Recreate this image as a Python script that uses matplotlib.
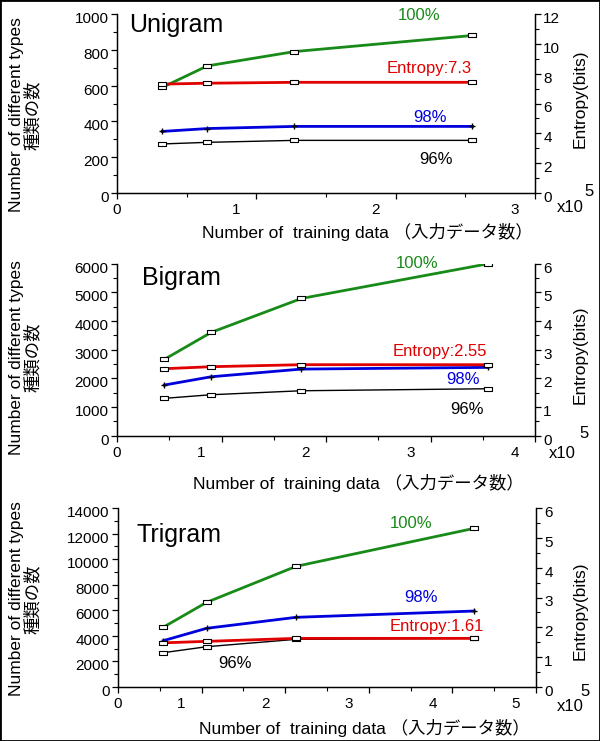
import matplotlib
matplotlib.use("Agg")
from matplotlib import pyplot as plt
from matplotlib.ticker import MultipleLocator
from matplotlib.patches import Rectangle
from matplotlib.transforms import ScaledTranslation

plt.rcParams['font.family'] = ['Liberation Sans', 'Noto Sans CJK JP', 'DejaVu Sans']

# training data size (x10^5)
uni_x = [0.325, 0.648, 1.273, 2.551]
uni_100 = [590, 710, 790, 880]
uni_98 = [344, 360, 372, 372]
uni_96 = [274, 283, 294, 294]
uni_ent = [7.3, 7.36, 7.42, 7.42]

bi_x = [0.453, 0.901, 1.765, 3.55]
bi_100 = [2655, 3596, 4780, 5990]
bi_98 = [1760, 2049, 2317, 2376]
bi_96 = [1296, 1422, 1561, 1631]
bi_ent = [2.33, 2.40, 2.47, 2.47]

tri_x = [0.54, 1.06, 2.13, 4.26]
tri_100 = [4668, 6622, 9437, 12408]
tri_98 = [3620, 4590, 5450, 5942]
tri_96 = [2682, 3151, 3729, 3808]
tri_ent = [1.48, 1.53, 1.63, 1.63]

GREEN = "#188a18"
RED = "#e00000"
BLUE = "#0000dd"

box = [(-1, -0.55), (1, -0.55), (1, 0.55), (-1, 0.55), (-1, -0.55)]
mk = dict(marker=box, markersize=6, mfc="white", mec="black", mew=0.8)

fig = plt.figure(figsize=(6, 7.41), dpi=100)
W, H = 600.0, 741.0


def px(x0, x1, y0, y1):
    return [x0 / W, 1 - y1 / H, (x1 - x0) / W, (y1 - y0) / H]


def panel(rect, title, tpos, x, y100, y98, y96, ent, xmax, ymax, ymaj, ymin,
          emax, emaj, emin, ent_txt, lpos, xlab_pos):
    ax = fig.add_axes(rect)
    ax2 = ax.twinx()

    ax.plot(x, y96, color="black", lw=1.0, **mk, zorder=3)
    ax.plot(x, y98, color=BLUE, lw=2.0, marker="+", markersize=4, mec="black", zorder=4)
    ax.plot(x, y100, color=GREEN, lw=2.0, **mk, zorder=5)
    ax2.plot(x, ent, color=RED, lw=2.0, **mk)

    ax.set_xlim(0, xmax)
    ax.set_ylim(0, ymax)
    ax2.set_ylim(0, emax)
    ax.yaxis.set_major_locator(MultipleLocator(ymaj))
    ax.yaxis.set_minor_locator(MultipleLocator(ymin))
    ax2.yaxis.set_major_locator(MultipleLocator(emaj))
    ax2.yaxis.set_minor_locator(MultipleLocator(emin))
    ax.xaxis.set_minor_locator(MultipleLocator(0.5))
    ax.set_xticks(range(int(xmax) + 1))
    ax.set_xticklabels([])

    for a in (ax, ax2):
        a.spines["top"].set_visible(False)
        for s in a.spines.values():
            s.set_linewidth(0.9)
        a.tick_params(which="major", direction="out", length=4, width=0.9, labelsize=11, pad=2)
        a.tick_params(which="minor", direction="out", length=3, width=0.8)
        # y tick labels sit a little below their ticks
        for lab in a.get_yticklabels():
            lab.set_transform(lab.get_transform() + ScaledTranslation(0, -0.035, fig.dpi_scale_trans))

    # x tick labels sit slightly left of their ticks in the original
    for t in range(int(xmax) + 1):
        off = 0 if t == 0 else -0.2
        ax.text(t, 0, str(t), fontsize=11, ha="center", va="top",
                transform=ax.get_xaxis_transform() + ScaledTranslation(off, -0.1, fig.dpi_scale_trans))

    ax.text(tpos[0], tpos[1], title, fontsize=18, transform=ax.transAxes, ha="left", va="center")

    ax.text(*lpos[0], "100%", color=GREEN, fontsize=12, ha="center", va="center")
    ax.text(*lpos[1], ent_txt, color=RED, fontsize=12, ha="center", va="center")
    ax.text(*lpos[2], "98%", color=BLUE, fontsize=12, ha="center", va="center")
    ax.text(*lpos[3], "96%", color="black", fontsize=12, ha="center", va="center")

    ax.text(xlab_pos[0], 0, "Number of  training data （入力データ数）", fontsize=12.5,
            ha="center", va="center", transform=ax.transAxes + ScaledTranslation(0, -xlab_pos[1] / 100, fig.dpi_scale_trans))
    return ax


panel(px(117, 535, 14, 193), "Unigram", (0.03, 0.94), uni_x, uni_100, uni_98, uni_96, uni_ent,
      3, 1000, 200, 100, 12, 2, 1, "Entropy:7.3",
      [(2.17, 994), (2.24, 693), (2.25, 420), (2.29, 188)], (0.598, 38.7))
panel(px(117, 535, 263.5, 435.5), "Bigram", (0.059, 0.916), bi_x, bi_100, bi_98, bi_96, bi_ent,
      4, 6000, 1000, 500, 6, 1, 0.5, "Entropy:2.55",
      [(2.87, 5990), (3.09, 2922), (3.31, 1960), (3.35, 914)], (0.577, 47.5))
panel(px(118, 536, 508, 687), "Trigram", (0.045, 0.849), tri_x, tri_100, tri_98, tri_96, tri_ent,
      5, 14000, 2000, 1000, 6, 1, 0.5, "Entropy:1.61",
      [(3.51, 12800), (3.81, 4770), (3.62, 7013), (1.40, 1853)], (0.59, 41))

for yc, yr, xten, five in [(115, 98.5, (570, 207), (589, 192)),
                           (357.5, 355, (562.6, 453), (583.6, 434)),
                           (599, 611, (570, 706.7), (585.5, 691.7))]:
    fig.text(25 / W, 1 - yc / H, "Number of different types\n種類の数", rotation=90,
             fontsize=12.5, ha="center", va="center", multialignment="center", linespacing=1.0)
    fig.text(580 / W, 1 - yr / H, "Entropy(bits)", rotation=90, fontsize=12.5, ha="center", va="center")
    fig.text(xten[0] / W, 1 - xten[1] / H, "x10", fontsize=12, ha="center", va="center")
    fig.text(five[0] / W, 1 - five[1] / H, "5", fontsize=12, ha="center", va="center")

fig.patches.append(Rectangle((0, 0), 1, 1, transform=fig.transFigure, fill=False, ec="black", lw=2))

fig.savefig("out.png", dpi=100)
